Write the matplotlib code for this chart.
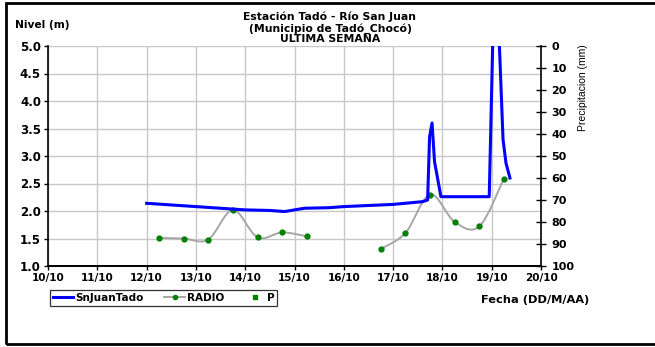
import numpy as np
import matplotlib
matplotlib.use("Agg")
import matplotlib.pyplot as plt
from matplotlib.path import Path
from matplotlib.patches import PathPatch, Rectangle
from matplotlib.lines import Line2D

plt.rcParams["font.family"] = ["DejaVu Sans"]

# SnJuanTado level (m), x = day of October
nivel_dia = [12.0, 12.5, 13.0, 13.5, 14.0, 14.5, 14.8, 15.2, 15.7, 16.0, 16.5,
             17.0, 17.6, 17.70, 17.74, 17.79, 17.84, 17.97, 18.95, 19.07,
             19.23, 19.29, 19.37]
nivel_m = [2.14, 2.11, 2.08, 2.05, 2.02, 2.01, 1.99, 2.05, 2.06, 2.08, 2.10,
           2.12, 2.17, 2.20, 3.35, 3.60, 2.90, 2.26, 2.26, 7.0,
           3.30, 2.87, 2.60]

# RADIO readings (m)
radio_dia = [12.25, 12.75, 13.25, 13.75, 14.25, 14.75, 15.25, 15.75, 16.25,
             16.75, 17.25, 17.75, 18.25, 18.75, 19.25]
radio_m = [1.51, 1.50, 1.48, 2.02, 1.52, 1.61, 1.54, np.nan, np.nan,
           1.31, 1.60, 2.30, 1.80, 1.72, 2.59]

# precipitation (mm), no readings this week
p_dia = []
p_mm = []

x_ticks = list(range(10, 21))
x_labels = [f"{d}/10" for d in x_ticks]
nivel_ticks = [1.0, 1.5, 2.0, 2.5, 3.0, 3.5, 4.0, 4.5, 5.0]
precip_ticks = list(range(0, 101, 10))

BOLD = dict(fontweight="bold")


def smooth_path(xs, ys):
    # Catmull-Rom through the points, written as cubic Bezier pieces
    pts = np.column_stack([xs, ys])
    verts = [pts[0]]
    codes = [Path.MOVETO]
    n = len(pts)
    for i in range(n - 1):
        p0 = pts[i - 1] if i > 0 else pts[i]
        p1, p2 = pts[i], pts[i + 1]
        p3 = pts[i + 2] if i + 2 < n else pts[i + 1]
        c1 = p1 + (p2 - p0) / 6.0
        c2 = p2 - (p3 - p1) / 6.0
        verts += [c1, c2, p2]
        codes += [Path.CURVE4] * 3
    return Path(verts, codes)


fig = plt.figure(figsize=(6.55, 3.47), dpi=100)
ax = fig.add_axes([48 / 655, 1 - 266 / 347, (541 - 48) / 655, 220 / 347])

ax.set_xlim(10, 20)
ax.set_ylim(1.0, 5.0)
ax.set_xticks(x_ticks)
ax.set_xticklabels(x_labels, fontsize=7.5, **BOLD)
ax.set_yticks(nivel_ticks)
ax.set_yticklabels([f"{v:.1f}" for v in nivel_ticks], fontsize=8.5, **BOLD)
ax.grid(True, color="#c8c8c8", linewidth=1.0)
ax.set_axisbelow(True)
ax.tick_params(axis="both", direction="out", length=3, width=1, pad=2)
for s in ("top", "right"):
    ax.spines[s].set_visible(False)
ax.spines["left"].set_linewidth(1.2)
ax.spines["bottom"].set_linewidth(1.4)

# RADIO smoothed segments
radio_x = np.array(radio_dia)
radio_y = np.array(radio_m)
ok = ~np.isnan(radio_y)
breaks = np.where(np.diff(ok.astype(int)) != 0)[0] + 1
for seg in np.split(np.arange(len(radio_x)), breaks):
    seg = seg[ok[seg]]
    if len(seg) > 1:
        ax.add_patch(PathPatch(smooth_path(radio_x[seg], radio_y[seg]),
                               facecolor="none", edgecolor="#a6a6a6",
                               linewidth=1.4, zorder=3))
ax.plot(radio_x, radio_y, linestyle="none", marker="o", markersize=3.5,
        color="#008000", zorder=4)

ax.plot(nivel_dia, nivel_m, color="#0000ff", linewidth=2.2, zorder=5,
        clip_on=True)

ax2 = ax.twinx()
ax2.set_ylim(100, 0)
ax2.set_yticks(precip_ticks)
ax2.set_yticklabels([str(v) for v in precip_ticks], fontsize=8, **BOLD)
ax2.tick_params(axis="y", direction="inout", length=7, width=1, pad=4)
for s in ("top", "left", "bottom"):
    ax2.spines[s].set_visible(False)
ax2.spines["right"].set_linewidth(1.2)
ax2.plot(p_dia, p_mm, linestyle="none", marker="s", markersize=3,
         color="#008000")

title_lines = ["Estación Tadó - Río San Juan", "(Municipio de Tadó_Chocó)",
               "ULTIMA SEMANA"]
for line, ypx in zip(title_lines, (16.5, 28.5, 39)):
    fig.text(330 / 655, 1 - ypx / 347, line, ha="center", va="center",
             fontsize=7.8, **BOLD)
fig.text(15 / 655, 0.928, "Nivel (m)", ha="left", va="center",
         fontsize=7.7, **BOLD)
fig.text(583 / 655, 1 - 88 / 347, "Precipitacion (mm)", rotation=90,
         ha="center", va="center", fontsize=7.5,
         family=["Liberation Sans", "DejaVu Sans"])
fig.text(535 / 655, 1 - 300 / 347, "Fecha (DD/M/AA)", ha="center",
         va="center", fontsize=8.2, **BOLD)

handles = [
    Line2D([], [], color="#0000ff", linewidth=2.2),
    Line2D([], [], color="#a6a6a6", linewidth=1.4, marker="o",
           markersize=3, markerfacecolor="#008000", markeredgecolor="#008000"),
    Line2D([], [], color="#008000", linestyle="none", marker="s",
           markersize=2.5),
]
leg = fig.legend(handles, ["SnJuanTado", "RADIO", "P"], ncol=3,
                 loc="center left", bbox_to_anchor=(50 / 655, 1 - 298 / 347),
                 frameon=True, fancybox=False, edgecolor="black",
                 prop={"weight": "bold", "size": 7.5},
                 handlelength=2.0, handletextpad=0.15, columnspacing=2.0,
                 borderpad=0.25, borderaxespad=0)
leg.get_frame().set_linewidth(0.9)

# outer frame of the picture
fig.add_artist(Rectangle((6 / 655, 3 / 347), 1.2, 341 / 347,
                         transform=fig.transFigure, fill=False,
                         edgecolor="black", linewidth=2.0))

fig.savefig("out.png", dpi=100, facecolor="white")
